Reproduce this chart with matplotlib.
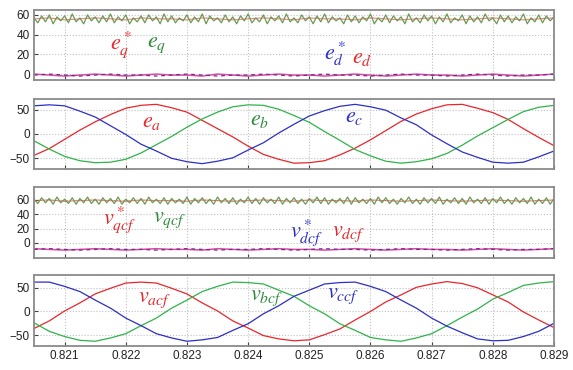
import numpy as np
import matplotlib
matplotlib.use("Agg")
import matplotlib.pyplot as plt

plt.rcParams['font.family'] = ['Liberation Sans', 'DejaVu Sans']
plt.rcParams['mathtext.fontset'] = 'stix'

# sample grids (s)
t0 = 0.8205
step_slow = 0.00025     # 35 samples for abc / reference traces
step_fast = 0.0000625   # 137 samples for the q-axis ripple

# panel 1: dq voltages
eq_ref = [56, 57, 55, 56, 57, 56, 55, 57, 56, 56, 55, 57, 56, 55, 56, 57, 56, 55,
          57, 56, 56, 55, 57, 56, 55, 56, 57, 56, 55, 56, 57, 56, 55, 56, 57]
eq = [57, 52, 59, 53, 60, 51, 58, 54, 59, 52, 61, 53, 57, 51, 60, 54, 58, 52, 59, 53,
      61, 52, 58, 54, 60, 51, 57, 53, 59, 52, 60, 54, 58, 51, 61, 53, 59, 52, 57, 54,
      60, 52, 58, 53, 61, 51, 59, 54, 57, 52, 60, 53, 58, 51, 59, 54, 61, 52, 57, 53,
      60, 51, 58, 54, 59, 52, 61, 53, 57, 52, 60, 54, 58, 51, 59, 53, 61, 52, 58, 54,
      57, 51, 60, 53, 59, 52, 58, 54, 61, 51, 57, 53, 60, 52, 59, 54, 58, 51, 61, 53,
      57, 52, 60, 54, 59, 51, 58, 53, 61, 52, 57, 54, 60, 51, 59, 53, 58, 52, 61, 54,
      57, 51, 60, 53, 59, 52, 58, 54, 61, 51, 57, 53, 60, 52, 59, 54, 58]
ed_ref = [-1, 0, -1, -2, -1, 0, -1, -1, -2, -1, 0, -1, -2, -1, -1, 0, -1, -2,
          -1, 0, -1, -1, -2, -1, 0, -1, -1, -2, -1, 0, -1, -2, -1, -1, 0]
ed = [0, -1, -2, -1, 0, -1, -2, -1, 0, -1, -1, -2, 0, -1, -2, -1, 0, -1,
      -1, -2, -1, 0, -1, -2, -1, 0, -1, -1, -2, -1, 0, -1, -2, -1, 0]

# panel 2: abc voltages
ea = [-44, -30, -11, 8, 25, 40, 53, 59, 61, 54, 45, 28, 11, -6, -25, -42, -52, -60,
      -59, -55, -43, -29, -12, 7, 26, 41, 52, 60, 61, 53, 44, 30, 11, -7, -24]
eb = [-14, -31, -46, -55, -59, -58, -52, -39, -22, -5, 14, 31, 45, 56, 60, 59, 51, 38,
      24, 5, -13, -32, -45, -56, -60, -57, -51, -40, -23, -4, 13, 30, 46, 55, 59]
ec = [58, 60, 58, 47, 35, 17, -1, -21, -35, -50, -57, -61, -56, -49, -33, -18, 2, 20,
      37, 48, 57, 61, 56, 49, 33, 19, -2, -20, -37, -48, -58, -60, -58, -47, -35]

# panel 3: filtered dq voltages
vq_ref = [59, 60, 58, 59, 60, 59, 58, 60, 59, 59, 58, 60, 59, 58, 59, 60, 59, 58,
          60, 59, 59, 58, 60, 59, 58, 59, 60, 59, 58, 59, 60, 59, 58, 59, 60]
vq = [61, 55, 63, 56, 62, 54, 64, 56, 61, 55, 63, 54, 62, 56, 64, 55, 61, 54, 63, 56,
      62, 55, 64, 54, 61, 56, 63, 55, 62, 54, 64, 56, 61, 55, 63, 54, 62, 56, 61, 55,
      64, 54, 62, 56, 63, 55, 61, 54, 64, 56, 62, 55, 63, 54, 61, 56, 64, 55, 62, 54,
      63, 56, 61, 55, 64, 54, 62, 56, 63, 55, 61, 54, 62, 56, 64, 55, 63, 54, 61, 56,
      62, 55, 64, 54, 63, 56, 61, 55, 62, 54, 64, 56, 63, 55, 61, 54, 62, 56, 64, 55,
      61, 54, 63, 56, 62, 55, 64, 54, 61, 56, 63, 55, 62, 54, 64, 56, 61, 55, 63, 54,
      62, 56, 64, 55, 61, 54, 63, 56, 62, 55, 64, 54, 61, 55, 63, 54, 62]
vd_ref = [-9, -8, -9, -10, -9, -8, -9, -9, -10, -9, -8, -9, -10, -9, -9, -8, -9, -10,
          -9, -8, -9, -9, -10, -9, -8, -9, -9, -10, -9, -8, -9, -10, -9, -9, -8]
vd = [-8, -9, -10, -9, -8, -9, -10, -9, -8, -9, -9, -10, -8, -9, -10, -9, -8, -9,
      -9, -10, -9, -8, -9, -10, -9, -8, -9, -9, -10, -9, -8, -9, -10, -9, -8]

# panel 4: filtered abc voltages
va = [-36, -20, 1, 18, 37, 49, 60, 62, 60, 49, 37, 18, 1, -20, -35, -51, -58, -62,
      -60, -49, -37, -18, 0, 20, 35, 51, 58, 63, 59, 50, 35, 20, -1, -18, -34]
vb = [-24, -42, -53, -61, -63, -56, -47, -30, -14, 7, 24, 42, 53, 62, 61, 58, 45, 32,
      12, -5, -26, -40, -55, -60, -63, -56, -47, -30, -12, 5, 26, 40, 55, 60, 63]
vc = [62, 62, 53, 42, 24, 7, -14, -30, -47, -56, -63, -60, -55, -40, -26, -5, 12, 32,
      45, 58, 61, 62, 53, 42, 24, 7, -14, -31, -45, -58, -62, -61, -53, -42, -25]

xticks = [0.821, 0.822, 0.823, 0.824, 0.825, 0.826, 0.827, 0.828, 0.829]


def tgrid(vals, step):
    return t0 + step * np.arange(len(vals))


RED = '#e8262a'
PINK = '#e04a9a'
GREEN = '#2fb34a'
BLUE = '#2b2fc4'
OLIVE = '#6a9a52'
LBL_GREEN = '#2e8b3a'
FS = 16

fig = plt.figure(figsize=(5.73, 3.70), dpi=100)
W = 34 / 573
WW = (554 - 34) / 573
rects = [(10, 80), (99, 169), (187, 258), (275, 346)]
axes = []
for top, bot in rects:
    ax = fig.add_axes([W, 1 - bot / 370, WW, (bot - top) / 370])
    ax.set_xlim(0.8205, 0.829)
    ax.set_xticks(xticks)
    ax.grid(True, linestyle=':', color='#c0c0c0', linewidth=0.8)
    for s in ax.spines.values():
        s.set_color('#8a8a8a')
        s.set_linewidth(1.3)
    ax.tick_params(direction='in', length=3, color='#444444', labelsize=8.5,
                   labelcolor='#222222', pad=3)
    axes.append(ax)

ax1, ax2, ax3, ax4 = axes

# panel 1
ax1.plot(tgrid(ed, step_slow), ed, color=PINK, lw=1.1)
ax1.plot(tgrid(ed_ref, step_slow), ed_ref, color='#6a2a9a', lw=0.9, dashes=(3, 3))
ax1.plot(tgrid(eq_ref, step_slow), eq_ref, color=RED, lw=0.8, alpha=0.6)
ax1.plot(tgrid(eq, step_fast), eq, color=OLIVE, lw=0.9)
ax1.set_ylim(-6, 65)
ax1.set_yticks([0, 20, 40, 60])
ax1.text(0.82193, 30, r'$e_q^*$', color=RED, fontsize=FS, ha='center', va='center')
ax1.text(0.82250, 30, r'$e_q$', color=LBL_GREEN, fontsize=FS, ha='center', va='center')
ax1.text(0.82543, 20, r'$e_d^*$', color=BLUE, fontsize=FS, ha='center', va='center')
ax1.text(0.82587, 17, r'$e_d$', color=RED, fontsize=FS, ha='center', va='center')

# panel 2
ax2.plot(tgrid(ea, step_slow), ea, color=RED, lw=0.9)
ax2.plot(tgrid(eb, step_slow), eb, color=GREEN, lw=0.9)
ax2.plot(tgrid(ec, step_slow), ec, color=BLUE, lw=0.9)
ax2.set_ylim(-72, 72)
ax2.set_yticks([-50, 0, 50])
ax2.text(0.82242, 25, r'$e_a$', color=RED, fontsize=FS, ha='center', va='center')
ax2.text(0.82418, 29, r'$e_b$', color=LBL_GREEN, fontsize=FS, ha='center', va='center')
ax2.text(0.82573, 35, r'$e_c$', color=BLUE, fontsize=FS, ha='center', va='center')

# panel 3
ax3.plot(tgrid(vd, step_slow), vd, color=PINK, lw=1.1)
ax3.plot(tgrid(vd_ref, step_slow), vd_ref, color='#6a2a9a', lw=0.9, dashes=(3, 3))
ax3.plot(tgrid(vq_ref, step_slow), vq_ref, color=RED, lw=0.8, alpha=0.6)
ax3.plot(tgrid(vq, step_fast), vq, color=OLIVE, lw=0.9)
ax3.set_ylim(-21, 78)
ax3.set_yticks([0, 20, 40, 60])
ax3.text(0.82190, 33, r'$v_{qcf}^*$', color=RED, fontsize=FS, ha='center', va='center')
ax3.text(0.82271, 33, r'$v_{qcf}$', color=LBL_GREEN, fontsize=FS, ha='center', va='center')
ax3.text(0.82496, 15, r'$v_{dcf}^*$', color=BLUE, fontsize=FS, ha='center', va='center')
ax3.text(0.82565, 13, r'$v_{dcf}$', color=RED, fontsize=FS, ha='center', va='center')

# panel 4
ax4.plot(tgrid(va, step_slow), va, color=RED, lw=0.9)
ax4.plot(tgrid(vb, step_slow), vb, color=GREEN, lw=0.9)
ax4.plot(tgrid(vc, step_slow), vc, color=BLUE, lw=0.9)
ax4.set_ylim(-73, 77)
ax4.set_yticks([-50, 0, 50])
ax4.text(0.82247, 25, r'$v_{acf}$', color=RED, fontsize=FS, ha='center', va='center')
ax4.text(0.82430, 30, r'$v_{bcf}$', color=LBL_GREEN, fontsize=FS, ha='center', va='center')
ax4.text(0.82555, 34, r'$v_{ccf}$', color=BLUE, fontsize=FS, ha='center', va='center')

for ax in (ax1, ax2, ax3):
    ax.tick_params(labelbottom=False)
ax4.set_xticklabels([f'{x:.3f}' for x in xticks])

fig.savefig('out.png', dpi=100)
